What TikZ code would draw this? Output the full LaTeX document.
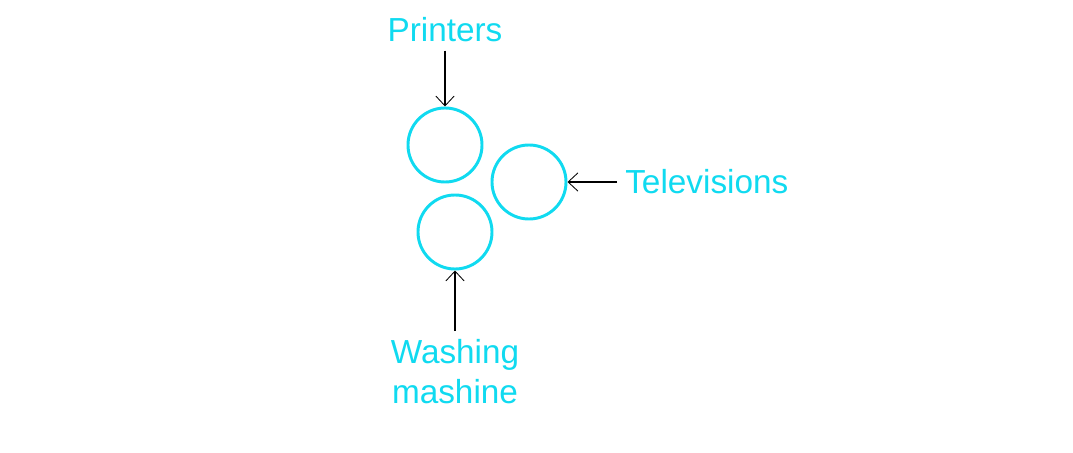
\documentclass[tikz,border=0pt]{standalone}
\usepackage{fontspec}
\setmainfont{Liberation Sans}
\usepackage{xcolor}
\usetikzlibrary{arrows.meta,positioning}

\definecolor{labelcyan}{RGB}{16,218,240}

\tikzset{
  unit/.style={circle, draw=labelcyan, line width=2.1pt, minimum size=1.85cm, inner sep=0pt},
  lbl/.style={text=labelcyan, font=\fontsize{23.7}{28.4}\selectfont, inner sep=0.2cm},
  pointer/.style={-{Straight Barb[length=7pt,width=13pt,line width=0.6pt]}, line width=1.8pt, black}
}

\begin{document}
\begin{tikzpicture}[x=0.025cm, y=-0.025cm]
  \useasboundingbox (0,0) rectangle (1073,453);

  % Units
  \node[unit] (printer) at (445,145) {};
  \node[unit] (tv) at (529,182) {};
  \node[unit] (washer) at (455,232) {};

  % Labels
  \node[lbl, anchor=base] (printer-label) at (445,42) {Printers};
  \node[lbl, anchor=west] (tv-label) at (617,182) {Televisions};
  \node[lbl, anchor=north, align=center] (washer-label) at (455,331) {Washing\\mashine};

  % Pointers
  \draw[pointer] (printer-label.south) -- (printer.north);
  \draw[pointer] (tv-label.west) -- (tv.east);
  \draw[pointer] (washer-label.north) -- (washer.south);

\end{tikzpicture}
\end{document}
